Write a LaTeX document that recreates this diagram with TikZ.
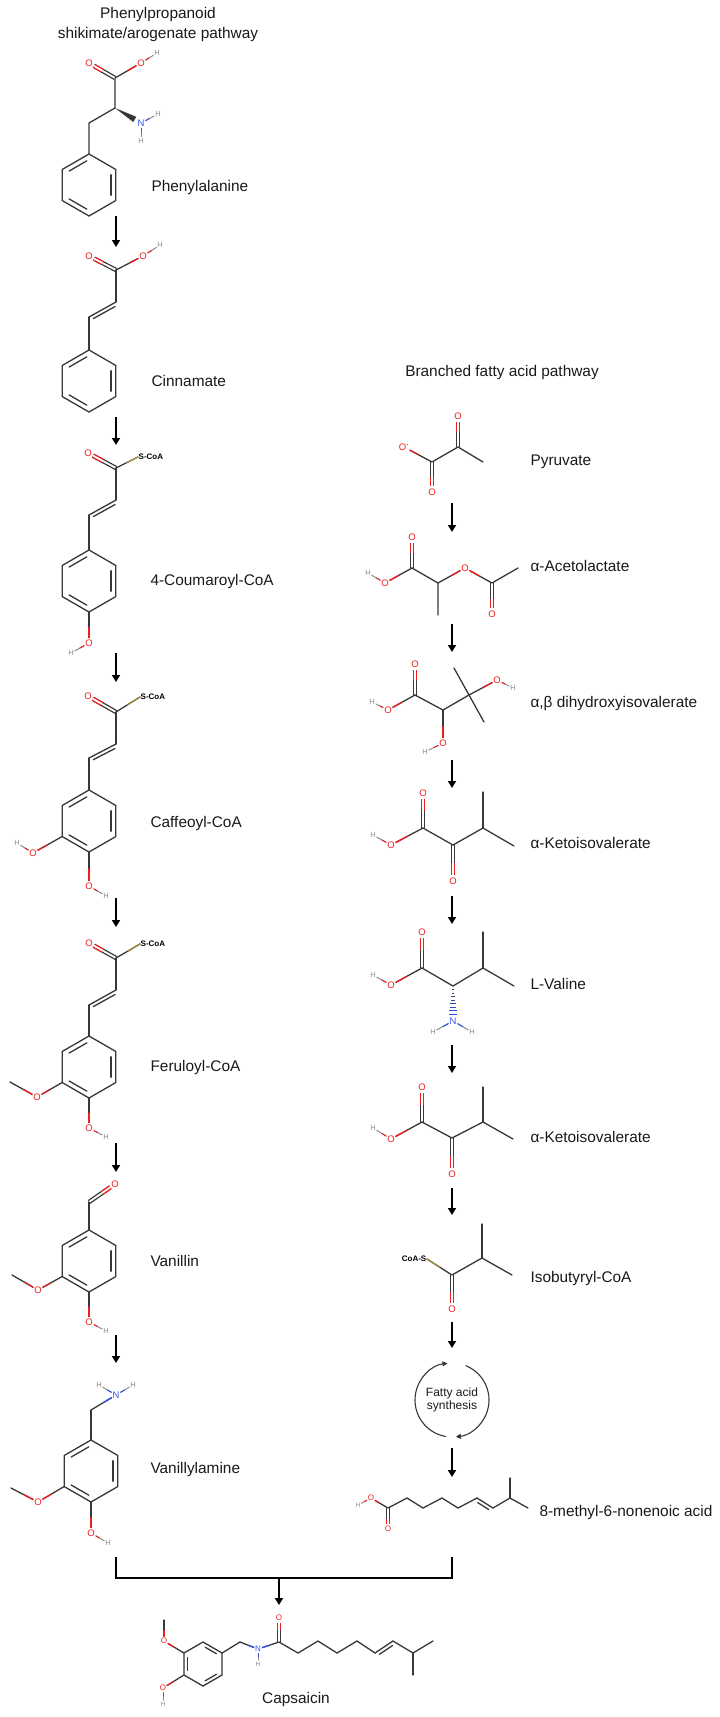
\documentclass[tikz,border=0pt]{standalone}
\usepackage{fontspec}
\setmainfont{Liberation Sans}
\usetikzlibrary{arrows.meta,calc}

\definecolor{ored}{RGB}{240,30,30}
\definecolor{nblue}{RGB}{50,80,245}
\definecolor{hgrey}{RGB}{140,140,140}
\definecolor{bondgrey}{RGB}{55,55,55}
\definecolor{sgold}{RGB}{165,140,60}
\definecolor{txt}{RGB}{25,25,25}

\tikzset{
  bond/.style={draw=bondgrey, line width=1.3pt, line cap=round},
  hbnd/.style={draw=hgrey, line width=1pt},
  dbl/.style={double=white, double distance=1.8pt, line cap=butt},
  atomO/.style={circle, inner sep=0.3pt, text=ored, font=\fontsize{9.5}{10}\selectfont},
  atomN/.style={atomO, text=nblue},
  atomH/.style={circle, inner sep=0.3pt, text=hgrey, font=\fontsize{7.5}{8}\selectfont},
  smallO/.style={atomO, font=\fontsize{8}{9}\selectfont},
  smallN/.style={smallO, text=nblue},
  smallH/.style={atomH, font=\fontsize{6.5}{7}\selectfont},
  coa/.style={inner sep=0.5pt, text=black, font=\bfseries\fontsize{8}{9}\selectfont},
  cname/.style={anchor=west, text=txt, text height=11pt, text depth=3pt,
    font=\fontsize{15.4}{18}\selectfont},
  head/.style={text=txt, align=center, font=\fontsize{15.4}{20}\selectfont},
  rxn/.style={-{Triangle[length=7pt,width=8pt]}, line width=2pt},
  joinline/.style={line width=2.4pt},
}

% bond with its second half in another colour
\newcommand\hbond[4][]{%
  \draw[bond,#1] (#2) -- (#3);
  \draw[bond,#1,#4] ($(#2)!.5!(#3)$) -- (#3);
}
% trans C=C with a short inner line
\newcommand\trans[2]{%
  \draw[bond] (#1) -- (#2);
  \draw[bond,shorten <=3pt,shorten >=3pt] ($(#1)!3.5pt!-90:(#2)$) -- ($(#2)!3.5pt!90:(#1)$);
}
% hexagon, pointy top: name, centre, radius
\newcommand\benz[3]{%
  \foreach \k/\ang in {1/-90,2/-30,3/30,4/90,5/150,6/210}
    {\coordinate (#1\k) at ($(#2)+(\ang:#3)$);}
  \draw[bond] (#11) -- (#12) -- (#13) -- (#14) -- (#15) -- (#16) -- cycle;
}
\newcommand\inring[3]{%
  \draw[bond,shorten <=2.5pt,shorten >=2.5pt] ($(#1)!.82!(#2)$) -- ($(#1)!.82!(#3)$);
}

\begin{document}
\begin{tikzpicture}[x=1pt,y=-1pt]
\useasboundingbox (0,0) rectangle (720,1717);

\node[head] (titleL) at (158,25) {Phenylpropanoid\\shikimate/arogenate pathway};
\node[head] (titleR) at (502,373) {Branched fatty acid pathway};

% compound names
\node[cname] (phl) at (148,187) {Phenylalanine};
\node[cname] (cil) at (148,382) {Cinnamate};
\node[cname] (col) at (147,581) {4-Coumaroyl-CoA};
\node[cname] (cal) at (147,823) {Caffeoyl-CoA};
\node[cname] (fel) at (147,1067) {Feruloyl-CoA};
\node[cname] (vnl) at (147,1262) {Vanillin};
\node[cname] (vyl) at (147,1469) {Vanillylamine};
\node[cname, anchor=center] (cpl) at (296,1699) {Capsaicin};
\node[cname] (pyl) at (527,461) {Pyruvate};
\node[cname] (acl) at (527,567) {α-Acetolactate};
\node[cname] (dhl) at (527,703) {α,β dihydroxyisovalerate};
\node[cname] (k1l) at (527,844) {α-Ketoisovalerate};
\node[cname] (vll) at (527,985) {L-Valine};
\node[cname] (k2l) at (527,1138) {α-Ketoisovalerate};
\node[cname] (ibl) at (527,1278) {Isobutyryl-CoA};
\node[cname] (fal) at (536,1512) {8-methyl-6-nonenoic acid};

% arrows
\foreach \i/\ya/\yb in {1/216/247, 2/417/445, 3/653/682, 4/898/927, 5/1143/1172, 6/1335/1363} {
  \coordinate (l\i a) at (116,\ya);
  \coordinate (l\i b) at (116,\yb);
  \draw[rxn] (l\i a) -- (l\i b);
}
\foreach \i/\ya/\yb in {1/503/532, 2/624/652, 3/760/788, 4/896/924, 5/1045/1073, 6/1188/1215, 7/1322/1348, 8/1448/1477} {
  \coordinate (r\i a) at (452,\ya);
  \coordinate (r\i b) at (452,\yb);
  \draw[rxn] (r\i a) -- (r\i b);
}

% Phenylalanine
\coordinate (phc) at (89,185);
\benz{ph}{phc}{31}
\inring{phc}{ph6}{ph1} \inring{phc}{ph2}{ph3} \inring{phc}{ph4}{ph5}
\coordinate (phb) at (89,123);
\coordinate (pha) at (115,108);
\coordinate (phk) at (115,78);
\node[atomO] (pho) at (89,63) {O};
\node[atomO] (phoh) at (141,63) {O};
\node[atomH] (phh) at (157,53) {H};
\node[atomN] (phn) at (141,123) {N};
\node[atomH] (phnh1) at (158,114) {H};
\node[atomH] (phnh2) at (141,141) {H};
\draw[bond] (ph1) -- (phb) -- (pha) -- (phk);
\hbond[dbl]{phk}{pho}{ored}
\hbond{phk}{phoh}{ored}
\hbond[hbnd]{phh}{phoh}{ored}
\coordinate (phw) at ($(pha)!.76!(phn)$);
\fill[bondgrey] (pha) -- ($(phw)!3pt!90:(pha)$) -- ($(phw)!3pt!-90:(pha)$) -- cycle;
\hbond[hbnd]{phnh1}{phn}{nblue}
\hbond[hbnd]{phnh2}{phn}{nblue}

% Cinnamate
\node[atomO] (cio) at (89,256) {O};
\node[atomO] (cioh) at (143,256) {O};
\node[atomH] (cih) at (160,245) {H};
\coordinate (cik) at (116,270);
\coordinate (cia) at (116,302);
\coordinate (cib) at (89,317);
\coordinate (cic) at (89,381);
\benz{ci}{cic}{31}
\inring{cic}{ci6}{ci1} \inring{cic}{ci2}{ci3} \inring{cic}{ci4}{ci5}
\hbond[dbl]{cik}{cio}{ored}
\hbond{cik}{cioh}{ored}
\hbond[hbnd]{cih}{cioh}{ored}
\draw[bond] (cik) -- (cia);
\trans{cib}{cia}
\draw[bond] (cib) -- (ci1);

% 4-Coumaroyl-CoA
\node[atomO] (coo) at (88,453) {O};
\node[coa, anchor=west] (cos) at (138,457) {S-CoA};
\coordinate (cok) at (116,468);
\coordinate (coa) at (116,500);
\coordinate (cob) at (89,515);
\coordinate (coc) at (89,581);
\benz{co}{coc}{31}
\inring{coc}{co6}{co1} \inring{coc}{co2}{co3} \inring{coc}{co4}{co5}
\node[atomO] (coop) at (89,643) {O};
\node[atomH] (cohp) at (71,653) {H};
\hbond[dbl]{cok}{coo}{ored}
\hbond{cok}{cos.west}{sgold}
\draw[bond] (cok) -- (coa);
\trans{cob}{coa}
\draw[bond] (cob) -- (co1);
\hbond{co4}{coop}{ored}
\hbond[hbnd]{cohp}{coop}{ored}

% Caffeoyl-CoA
\node[atomO] (cao) at (88,696) {O};
\node[coa, anchor=west] (cas) at (140,697) {S-CoA};
\coordinate (cak) at (116,712);
\coordinate (caa) at (116,744);
\coordinate (cab) at (89,758);
\coordinate (cac) at (89,821);
\benz{ca}{cac}{31}
\inring{cac}{ca6}{ca1} \inring{cac}{ca2}{ca3} \inring{cac}{ca4}{ca5}
\node[atomO] (caop) at (89,886) {O};
\node[atomH] (cahp) at (106,896) {H};
\node[atomO] (caom) at (33,853) {O};
\node[atomH] (cahm) at (17,843) {H};
\hbond[dbl]{cak}{cao}{ored}
\hbond{cak}{cas.west}{sgold}
\draw[bond] (cak) -- (caa);
\trans{cab}{caa}
\draw[bond] (cab) -- (ca1);
\hbond{ca4}{caop}{ored}
\hbond[hbnd]{cahp}{caop}{ored}
\hbond{ca5}{caom}{ored}
\hbond[hbnd]{cahm}{caom}{ored}

% Feruloyl-CoA
\node[atomO] (feo) at (89,943) {O};
\node[coa, anchor=west] (fes) at (140,944) {S-CoA};
\coordinate (fek) at (116,958);
\coordinate (fea) at (116,990);
\coordinate (feb) at (89,1005);
\coordinate (fec) at (89,1067);
\benz{fe}{fec}{31}
\inring{fec}{fe6}{fe1} \inring{fec}{fe2}{fe3} \inring{fec}{fe4}{fe5}
\node[atomO] (feop) at (89,1128) {O};
\node[atomH] (fehp) at (106,1137) {H};
\node[atomO] (feom) at (37,1097) {O};
\coordinate (feme) at (10,1082);
\hbond[dbl]{fek}{feo}{ored}
\hbond{fek}{fes.west}{sgold}
\draw[bond] (fek) -- (fea);
\trans{feb}{fea}
\draw[bond] (feb) -- (fe1);
\hbond{fe4}{feop}{ored}
\hbond[hbnd]{fehp}{feop}{ored}
\hbond{fe5}{feom}{ored}
\hbond{feme}{feom}{ored}

% Vanillin
\node[atomO] (vno) at (115,1184) {O};
\coordinate (vnk) at (89,1202);
\coordinate (vnc) at (89,1261);
\benz{vn}{vnc}{31}
\inring{vnc}{vn6}{vn1} \inring{vnc}{vn2}{vn3} \inring{vnc}{vn4}{vn5}
\node[atomO] (vnop) at (89,1322) {O};
\node[atomH] (vnhp) at (106,1331) {H};
\node[atomO] (vnom) at (38,1290) {O};
\coordinate (vnme) at (12,1275);
\hbond[dbl]{vnk}{vno}{ored}
\draw[bond] (vnk) -- (vn1);
\hbond{vn4}{vnop}{ored}
\hbond[hbnd]{vnhp}{vnop}{ored}
\hbond{vn5}{vnom}{ored}
\hbond{vnme}{vnom}{ored}

% Vanillylamine
\node[atomN] (vyn) at (116,1395) {N};
\node[atomH] (vyh1) at (99,1385) {H};
\node[atomH] (vyh2) at (133,1385) {H};
\coordinate (vyk) at (91,1410);
\coordinate (vyc) at (91,1471);
\benz{vy}{vyc}{31}
\inring{vyc}{vy6}{vy1} \inring{vyc}{vy2}{vy3} \inring{vyc}{vy4}{vy5}
\node[atomO] (vyop) at (91,1533) {O};
\node[atomH] (vyhp) at (108,1543) {H};
\node[atomO] (vyom) at (38,1502) {O};
\coordinate (vyme) at (11,1488);
\hbond{vyk}{vyn}{nblue}
\hbond[hbnd]{vyh1}{vyn}{nblue}
\hbond[hbnd]{vyh2}{vyn}{nblue}
\draw[bond] (vyk) -- (vy1);
\hbond{vy4}{vyop}{ored}
\hbond[hbnd]{vyhp}{vyop}{ored}
\hbond{vy5}{vyom}{ored}
\hbond{vyme}{vyom}{ored}

% join and Capsaicin
\coordinate (jl) at (116,1557);
\coordinate (jlb) at (116,1578);
\coordinate (jr) at (452,1557);
\coordinate (jrb) at (452,1578);
\coordinate (jm) at (279,1578);
\coordinate (jmb) at (279,1605);
\draw[joinline] (jl) -- (jlb) -- (jrb) -- (jr);
\draw[rxn] (jm) -- (jmb);

\coordinate (cpc) at (203,1664);
\benz{cp}{cpc}{22}
\inring{cpc}{cp6}{cp5} \inring{cpc}{cp1}{cp2} \inring{cpc}{cp3}{cp4}
\node[smallO] (cpom) at (164,1641) {O};
\coordinate (cpme) at (164,1620);
\node[smallO] (cpop) at (163,1688) {O};
\node[smallH] (cphp) at (163,1704) {H};
\coordinate (cpk) at (240,1642);
\node[smallN] (cpn) at (258,1649) {N};
\node[smallH] (cphn) at (258,1664) {H};
\coordinate (cpa) at (279,1642);
\node[smallO] (cpo) at (279,1618) {O};
\coordinate (cq1) at (298,1653);
\coordinate (cq2) at (318,1641);
\coordinate (cq3) at (337,1653);
\coordinate (cq4) at (357,1641);
\coordinate (cq5) at (375,1653);
\coordinate (cq6) at (393,1641);
\coordinate (cq7) at (413,1653);
\coordinate (cq8) at (433,1641);
\coordinate (cq9) at (413,1675);
\hbond{cp6}{cpom}{ored}
\hbond{cpme}{cpom}{ored}
\hbond{cp5}{cpop}{ored}
\hbond[hbnd]{cphp}{cpop}{ored}
\draw[bond] (cp2) -- (cpk);
\hbond{cpk}{cpn}{nblue}
\hbond{cpa}{cpn}{nblue}
\hbond[hbnd]{cphn}{cpn}{nblue}
\hbond[dbl]{cpa}{cpo}{ored}
\draw[bond] (cpa) -- (cq1) -- (cq2) -- (cq3) -- (cq4) -- (cq5);
\trans{cq5}{cq6}
\draw[bond] (cq6) -- (cq7) -- (cq8);
\draw[bond] (cq7) -- (cq9);

% Pyruvate
\node[atomO] (pyo1) at (458,416) {O};
\node[atomO] (pyo2) at (432,492) {O};
\node[atomO] (pyo3) at (404,447) {O\textsuperscript{\textcolor{black}{-}}};
\coordinate (pyk) at (458,447);
\coordinate (pym) at (483,462);
\coordinate (pyc) at (432,462);
\hbond[dbl]{pyk}{pyo1}{ored}
\draw[bond] (pym) -- (pyk) -- (pyc);
\hbond[dbl]{pyc}{pyo2}{ored}
\hbond{pyc}{pyo3}{ored}

% alpha-Acetolactate
\node[atomO] (aco1) at (412,537) {O};
\node[atomO] (aco2) at (385,583) {O};
\node[atomH] (ach) at (368,573) {H};
\node[atomO] (aco3) at (465,568) {O};
\node[atomO] (aco4) at (492,614) {O};
\coordinate (ack) at (412,568);
\coordinate (aca) at (438,583);
\coordinate (acm) at (438,615);
\coordinate (acc) at (492,583);
\coordinate (acm2) at (518,568);
\hbond[dbl]{ack}{aco1}{ored}
\hbond{ack}{aco2}{ored}
\hbond[hbnd]{ach}{aco2}{ored}
\draw[bond] (ack) -- (aca) -- (acm);
\hbond{aca}{aco3}{ored}
\hbond{acc}{aco3}{ored}
\hbond[dbl]{acc}{aco4}{ored}
\draw[bond] (acc) -- (acm2);

% alpha,beta dihydroxyisovalerate
\node[atomO] (dho1) at (415,664) {O};
\node[atomO] (dho2) at (388,710) {O};
\node[atomH] (dhh1) at (372,702) {H};
\node[atomO] (dho3) at (497,680) {O};
\node[atomH] (dhh2) at (513,688) {H};
\node[atomO] (dho4) at (443,743) {O};
\node[atomH] (dhh3) at (425,752) {H};
\coordinate (dhk) at (415,695);
\coordinate (dha) at (443,710);
\coordinate (dhb) at (469,695);
\coordinate (dhm1) at (454,668);
\coordinate (dhm2) at (484,722);
\hbond[dbl]{dhk}{dho1}{ored}
\hbond{dhk}{dho2}{ored}
\hbond[hbnd]{dhh1}{dho2}{ored}
\draw[bond] (dhk) -- (dha) -- (dhb);
\draw[bond] (dhm1) -- (dhm2);
\hbond{dhb}{dho3}{ored}
\hbond[hbnd]{dhh2}{dho3}{ored}
\hbond{dha}{dho4}{ored}
\hbond[hbnd]{dhh3}{dho4}{ored}

% alpha-Ketoisovalerate
\node[atomO] (k1o1) at (423,793) {O};
\node[atomO] (k1o2) at (391,845) {O};
\node[atomH] (k1h) at (373,835) {H};
\node[atomO] (k1o3) at (453,881) {O};
\coordinate (k1k) at (423,828);
\coordinate (k1a) at (453,845);
\coordinate (k1b) at (483,828);
\coordinate (k1m1) at (483,792);
\coordinate (k1m2) at (514,846);
\hbond[dbl]{k1k}{k1o1}{ored}
\hbond{k1k}{k1o2}{ored}
\hbond[hbnd]{k1h}{k1o2}{ored}
\hbond[dbl]{k1a}{k1o3}{ored}
\draw[bond] (k1k) -- (k1a) -- (k1b) -- (k1m2);
\draw[bond] (k1b) -- (k1m1);

% L-Valine
\node[atomO] (vlo1) at (422,932) {O};
\node[atomO] (vlo2) at (391,985) {O};
\node[atomH] (vlh) at (373,975) {H};
\node[atomN] (vln) at (453,1021) {N};
\node[atomH] (vlnh1) at (433,1032) {H};
\node[atomH] (vlnh2) at (472,1032) {H};
\coordinate (vlk) at (422,968);
\coordinate (vla) at (453,986);
\coordinate (vlb) at (483,968);
\coordinate (vlm1) at (483,932);
\coordinate (vlm2) at (514,986);
\hbond[dbl]{vlk}{vlo1}{ored}
\hbond{vlk}{vlo2}{ored}
\hbond[hbnd]{vlh}{vlo2}{ored}
\draw[bond] (vlk) -- (vla) -- (vlb) -- (vlm2);
\draw[bond] (vlb) -- (vlm1);
\foreach \t in {1,...,8} {
  \pgfmathsetmacro\f{0.1*\t}
  \pgfmathsetmacro\w{0.4+0.45*\t}
  \pgfmathtruncatemacro\p{12*\t}
  \draw[line width=0.8pt, nblue!\p!bondgrey] ($(vla)!\f!(vln)+(-\w,0)$) -- ++({2*\w},0);
}
\hbond[hbnd]{vlnh1}{vln}{nblue}
\hbond[hbnd]{vlnh2}{vln}{nblue}

% alpha-Ketoisovalerate
\node[atomO] (k2o1) at (422,1087) {O};
\node[atomO] (k2o2) at (391,1139) {O};
\node[atomH] (k2h) at (373,1128) {H};
\node[atomO] (k2o3) at (452,1174) {O};
\coordinate (k2k) at (422,1122);
\coordinate (k2a) at (452,1138);
\coordinate (k2b) at (483,1122);
\coordinate (k2m1) at (483,1087);
\coordinate (k2m2) at (513,1139);
\hbond[dbl]{k2k}{k2o1}{ored}
\hbond{k2k}{k2o2}{ored}
\hbond[hbnd]{k2h}{k2o2}{ored}
\hbond[dbl]{k2a}{k2o3}{ored}
\draw[bond] (k2k) -- (k2a) -- (k2b) -- (k2m2);
\draw[bond] (k2b) -- (k2m1);

% Isobutyryl-CoA
\node[coa, anchor=east] (ibs) at (427,1259) {CoA-S};
\node[atomO] (ibo) at (452,1309) {O};
\coordinate (ibk) at (452,1275);
\coordinate (ibb) at (482,1258);
\coordinate (ibm1) at (482,1224);
\coordinate (ibm2) at (512,1275);
\hbond{ibk}{ibs.east}{sgold}
\hbond[dbl]{ibk}{ibo}{ored}
\draw[bond] (ibk) -- (ibb) -- (ibm2);
\draw[bond] (ibb) -- (ibm1);

% fatty acid synthesis cycle
\coordinate (fas) at (452,1400);
\node[text=txt, align=center, font=\fontsize{12}{13}\selectfont] (fasl) at (fas) {Fatty acid\\synthesis};
\draw[bond, line width=1.1pt, -{Triangle[length=5pt,width=5pt]}] ($(fas)+(100:37)$) arc[start angle=100, end angle=263, radius=37];
\draw[bond, line width=1.1pt, -{Triangle[length=5pt,width=5pt]}] ($(fas)+(-68:37)$) arc[start angle=-68, end angle=84, radius=37];

% 8-methyl-6-nonenoic acid
\node[smallH] (fah) at (358,1505) {H};
\node[smallO] (fao1) at (371,1498) {O};
\node[smallO] (fao2) at (388,1529) {O};
\coordinate (fak) at (388,1508);
\coordinate (fa1) at (407,1498);
\coordinate (fa2) at (423,1508);
\coordinate (fa3) at (442,1498);
\coordinate (fa4) at (458,1508);
\coordinate (fa5) at (477,1498);
\coordinate (fa6) at (493,1508);
\coordinate (fa7) at (510,1498);
\coordinate (fa8) at (510,1478);
\coordinate (fa9) at (528,1508);
\hbond[hbnd]{fah}{fao1}{ored}
\hbond{fak}{fao1}{ored}
\hbond[dbl]{fak}{fao2}{ored}
\draw[bond] (fak) -- (fa1) -- (fa2) -- (fa3) -- (fa4) -- (fa5);
\trans{fa5}{fa6}
\draw[bond] (fa6) -- (fa7) -- (fa9);
\draw[bond] (fa7) -- (fa8);
\end{tikzpicture}
\end{document}
